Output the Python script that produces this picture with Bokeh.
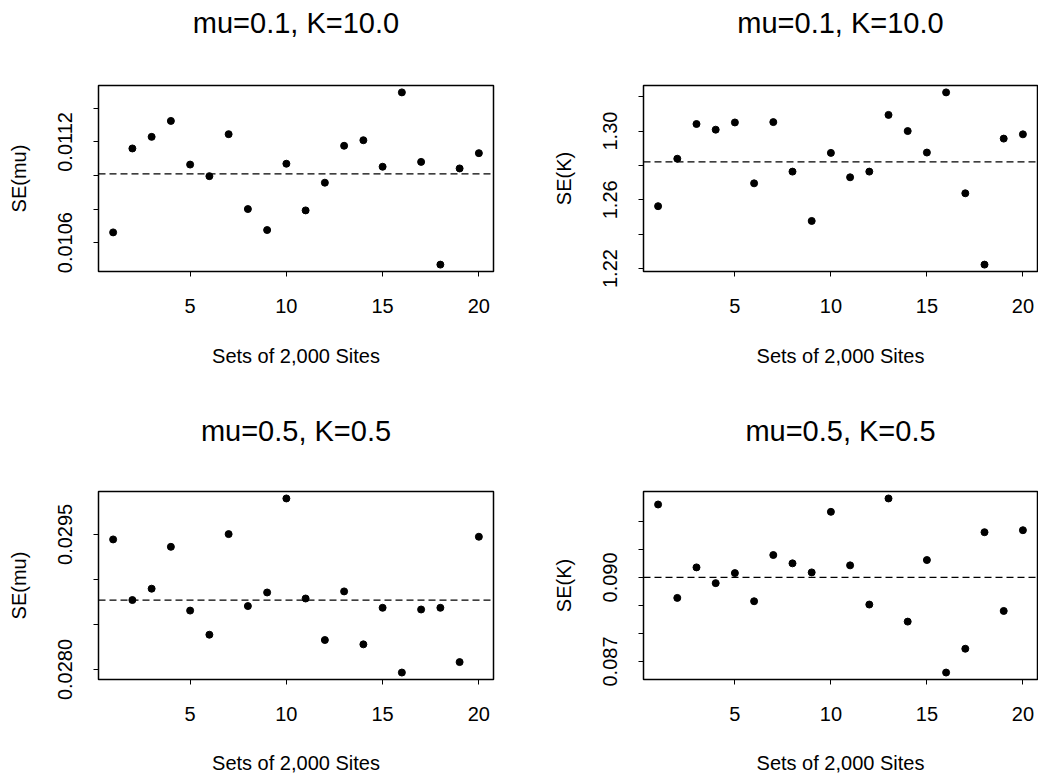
from bokeh.plotting import figure
from bokeh.layouts import column, row
from bokeh.models import Range1d, FixedTicker, Span, LinearAxis
from bokeh.embed import file_html
from bokeh.resources import INLINE

# ---------------- data ----------------
sets = list(range(1, 21))

# top row: mu=0.1, K=10.0
se_mu_a = [0.010661, 0.011161, 0.011230, 0.011325, 0.011065, 0.010996, 0.011246,
           0.010800, 0.010675, 0.011070, 0.010792, 0.010957, 0.011177, 0.011210,
           0.011052, 0.011495, 0.011081, 0.010469, 0.011042, 0.011133]
ref_mu_a = 0.011010
se_k_a = [1.2563, 1.2839, 1.3041, 1.3008, 1.3050, 1.2696, 1.3052, 1.2764, 1.2477,
          1.2873, 1.2731, 1.2764, 1.3094, 1.3000, 1.2875, 1.3225, 1.2638, 1.2223,
          1.2956, 1.2981]
ref_k_a = 1.2821

# bottom row: mu=0.5, K=0.5
se_mu_b = [0.029444, 0.028771, 0.028897, 0.029362, 0.028654, 0.028386, 0.029503,
           0.028704, 0.028855, 0.029899, 0.028788, 0.028327, 0.028867, 0.028279,
           0.028685, 0.027966, 0.028666, 0.028685, 0.028082, 0.029474]
ref_mu_b = 0.02877
se_k_b = [0.092602, 0.089269, 0.090358, 0.089796, 0.090154, 0.089150, 0.090799,
          0.090502, 0.090179, 0.092340, 0.090430, 0.089032, 0.092817, 0.088423,
          0.090620, 0.086606, 0.087455, 0.091613, 0.088803, 0.091684]
ref_k_b = 0.0900

title_a = "mu=0.1, K=10.0"
title_b = "mu=0.5, K=0.5"
xlabel = "Sets of 2,000 Sites"
ylabel_mu = "SE(mu)"
ylabel_k = "SE(K)"

x_ticks = [5, 10, 15, 20]
x_tick_labels = ["5", "10", "15", "20"]

yt_mu_a = [0.0106, 0.0108, 0.0110, 0.0112, 0.0114]
yl_mu_a = ["0.0106", "", "", "0.0112", ""]
yt_k_a = [1.22, 1.24, 1.26, 1.28, 1.30, 1.32]
yl_k_a = ["1.22", "", "1.26", "", "1.30", ""]
yt_mu_b = [0.0280, 0.0285, 0.0290, 0.0295]
yl_mu_b = ["0.0280", "", "", "0.0295"]
yt_k_b = [0.087, 0.088, 0.089, 0.090, 0.091, 0.092]
yl_k_b = ["0.087", "", "", "0.090", "", ""]

FONT = "Liberation Sans"


def panel(title, ylabel, yvals, ref, yticks, ylabels, width, height,
          mb_left, mb_right, mb_top, mb_bottom, title_standoff, xlab_standoff):
    lo, hi = min(yvals), max(yvals)
    pad = 0.04 * (hi - lo)
    xpad = 0.04 * (max(sets) - min(sets))
    p = figure(width=width, height=height,
               x_range=Range1d(min(sets) - xpad, max(sets) + xpad),
               y_range=Range1d(lo - pad, hi + pad),
               output_backend="svg", toolbar_location=None,
               min_border_left=mb_left, min_border_right=mb_right,
               min_border_top=mb_top, min_border_bottom=mb_bottom)
    p.scatter(sets, yvals, size=7, color="black")
    p.add_layout(Span(location=ref, dimension="width", line_color="black",
                      line_dash="7 4", line_width=1.3))
    p.grid.visible = False
    p.outline_line_color = "black"
    p.outline_line_width = 1.5
    p.outline_line_alpha = 1.0
    p.background_fill_color = "white"
    p.border_fill_color = "white"

    xa = p.below[0]
    ya = p.left[0]
    for ax in (xa, ya):
        ax.axis_line_color = None
        ax.major_tick_in = 0
        ax.major_tick_out = 5
        ax.major_tick_line_color = "black"
        ax.minor_tick_line_color = None
        ax.major_label_text_font = FONT
        ax.major_label_text_font_size = "20px"
        ax.major_label_text_color = "black"
        ax.axis_label_text_font = FONT
        ax.axis_label_text_font_size = "20px"
        ax.axis_label_text_font_style = "normal"
        ax.axis_label_text_color = "black"

    xa.ticker = FixedTicker(ticks=x_ticks)
    xa.major_label_overrides = {t: l for t, l in zip(x_ticks, x_tick_labels)}
    xa.major_label_standoff = 22
    xa.axis_label = xlabel
    xa.axis_label_standoff = xlab_standoff

    ya.ticker = FixedTicker(ticks=yticks)
    ya.major_label_overrides = {t: l for t, l in zip(yticks, ylabels)}
    ya.major_label_orientation = "vertical"
    ya.major_label_standoff = 21
    ya.axis_label = ylabel
    ya.axis_label_standoff = 26

    # panel title drawn as the label of a bare axis above the frame
    top = LinearAxis(ticker=FixedTicker(ticks=[]), axis_label=title,
                     axis_line_color=None, major_tick_line_color=None,
                     minor_tick_line_color=None, major_tick_out=0,
                     major_tick_in=0, major_label_standoff=0,
                     axis_label_standoff=title_standoff,
                     axis_label_text_font=FONT,
                     axis_label_text_font_size="29px",
                     axis_label_text_font_style="normal",
                     axis_label_text_color="black")
    p.add_layout(top, "above")
    return p


p1 = panel(title_a, ylabel_mu, se_mu_a, ref_mu_a, yt_mu_a, yl_mu_a,
           545, 405, 98, 52, 85, 134, 47, 29)
p2 = panel(title_a, ylabel_k, se_k_a, ref_k_a, yt_k_a, yl_k_a,
           493, 405, 98, 1, 85, 134, 47, 29)
p3 = panel(title_b, ylabel_mu, se_mu_b, ref_mu_b, yt_mu_b, yl_mu_b,
           545, 372, 98, 52, 86, 98, 45, 28)
p4 = panel(title_b, ylabel_k, se_k_b, ref_k_b, yt_k_b, yl_k_b,
           493, 372, 98, 1, 86, 98, 45, 28)

layout = column(row(p1, p2), row(p3, p4))

open("out.html", "w").write(file_html(layout, INLINE))
